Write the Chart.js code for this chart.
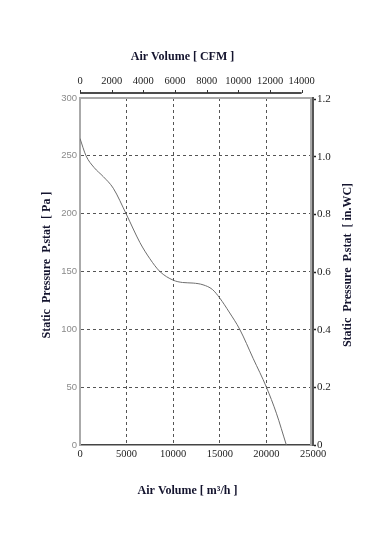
<!DOCTYPE html>
<html>
<head>
<meta charset="utf-8">
<script src="https://cdn.jsdelivr.net/npm/chart.js@4/dist/chart.umd.min.js"></script>
<style>
html,body{margin:0;padding:0;background:#fff;}
#wrap{width:391px;height:534px;position:relative;}
</style>
</head>
<body>
<div id="wrap"><canvas id="c"></canvas></div>
<script>
// Data
const flowM3h = [0, 650, 1500, 2500, 3570, 5000, 6430, 7500, 8570, 10000, 11000, 12140, 13200, 14200, 15000, 16000, 17140, 18570, 20000, 21070, 22140];
const pressurePa = [265, 250, 240, 232, 222, 199, 175, 161, 150, 142.5, 140.5, 140, 138.5, 134.5, 127, 115, 100, 75, 50, 27.5, 0];

const xTicksM3h = [0, 5000, 10000, 15000, 20000, 25000];
const xTicksCFM = [0, 2000, 4000, 6000, 8000, 10000, 12000, 14000];
const yTicksPa = [0, 50, 100, 150, 200, 250, 300];
const yTicksInWC = [0, 0.2, 0.4, 0.6, 0.8, 1.0, 1.2];

const titleBottom = 'Air Volume [ m³/h ]';
const titleTop = 'Air Volume [ CFM ]';
const titleLeft = 'Static  Pressure  P.stat  [ Pa ]';
const titleRight = 'Static  Pressure  P.stat  [ in.WC]';

const M3H_PER_CFM = 1.699;
const PA_PER_INWC = 249.09;

const serifTick = {family: "'Liberation Serif', 'Times New Roman', serif", size: 10.5};
const leftTick = {family: "'Liberation Sans Narrow', 'Liberation Sans', Arial, sans-serif", size: 9.5};
const rightTick = {family: "'Liberation Serif', 'Times New Roman', serif", size: 11};
const gridColor = '#555';

function hideEdges(max) {
  return ctx => (ctx.tick && (ctx.tick.value === 0 || ctx.tick.value === max)) ? 'rgba(0,0,0,0)' : gridColor;
}

const extras = {
  id: 'extras',
  afterDraw(chart) {
    const {ctx, chartArea: a, scales} = chart;
    const s = scales.x2;
    ctx.save();
    // top CFM axis line
    const yl = a.top - 5;
    ctx.strokeStyle = '#111';
    ctx.lineWidth = 1.5;
    ctx.beginPath();
    ctx.moveTo(s.getPixelForValue(xTicksCFM[0]), yl);
    ctx.lineTo(s.getPixelForValue(xTicksCFM[xTicksCFM.length - 1]), yl);
    ctx.stroke();
    ctx.lineWidth = 1;
    ctx.strokeStyle = '#333';
    xTicksCFM.forEach(v => {
      const px = Math.round(s.getPixelForValue(v)) + 0.5;
      ctx.beginPath();
      ctx.moveTo(px, yl - 3);
      ctx.lineTo(px, yl);
      ctx.stroke();
    });
    // grey inner right frame
    ctx.strokeStyle = '#aaa';
    ctx.lineWidth = 2;
    ctx.beginPath();
    ctx.moveTo(a.right - 2, a.top);
    ctx.lineTo(a.right - 2, a.bottom);
    ctx.stroke();
    // axis titles
    ctx.fillStyle = '#14142e';
    ctx.font = "bold 12px 'Liberation Serif', 'Times New Roman', serif";
    ctx.textAlign = 'center';
    ctx.textBaseline = 'middle';
    const cx = (a.left + a.right) / 2;
    ctx.fillText(titleTop, cx - 14, 57);
    ctx.fillText(titleBottom, cx - 9, 491);
    ctx.save();
    ctx.translate(47, 265);
    ctx.rotate(-Math.PI / 2);
    ctx.fillText(titleLeft, 0, 0);
    ctx.restore();
    ctx.save();
    ctx.translate(348, 265);
    ctx.rotate(-Math.PI / 2);
    ctx.fillText(titleRight, 0, 0);
    ctx.restore();
    ctx.restore();
  }
};

new Chart(document.getElementById('c'), {
  type: 'line',
  data: {
    datasets: [{
      data: flowM3h.map((x, i) => ({x: x, y: pressurePa[i]})),
      borderColor: '#6e6e6e',
      borderWidth: 1,
      pointRadius: 0,
      cubicInterpolationMode: 'monotone',
      fill: false,
      xAxisID: 'x',
      yAxisID: 'y'
    }]
  },
  options: {
    responsive: true,
    maintainAspectRatio: false,
    animation: false,
    layout: {padding: 0},
    plugins: {legend: {display: false}, tooltip: {enabled: false}, title: {display: false}},
    scales: {
      x: {
        type: 'linear', position: 'bottom', min: 0, max: 25000,
        afterBuildTicks: sc => { sc.ticks = xTicksM3h.map(v => ({value: v})); },
        afterFit: sc => { sc.height = 89; },
        ticks: {font: serifTick, color: '#222', padding: 3, maxRotation: 0, autoSkip: false, callback: v => String(v)},
        grid: {color: hideEdges(25000), lineWidth: 1, drawTicks: false},
        border: {display: true, color: '#444', width: 1.5, dash: [3, 3]}
      },
      x2: {
        type: 'linear', position: 'top', min: 0, max: 25000 / M3H_PER_CFM,
        afterBuildTicks: sc => { sc.ticks = xTicksCFM.map(v => ({value: v})); },
        afterFit: sc => { sc.height = 98; },
        ticks: {font: serifTick, color: '#222', padding: 10, maxRotation: 0, autoSkip: false, callback: v => String(v)},
        grid: {display: false, drawOnChartArea: false, drawTicks: false},
        border: {display: true, color: '#aaa', width: 2}
      },
      y: {
        type: 'linear', position: 'left', min: 0, max: 300,
        afterBuildTicks: sc => { sc.ticks = yTicksPa.map(v => ({value: v})); },
        afterFit: sc => { sc.width = 80; },
        ticks: {font: leftTick, color: '#8a8a8a', padding: 3, autoSkip: false, callback: v => String(v)},
        grid: {color: hideEdges(300), lineWidth: 1, drawTicks: false},
        border: {display: true, color: '#aaa', width: 2, dash: [3, 3]}
      },
      y2: {
        type: 'linear', position: 'right', min: 0, max: 300 / PA_PER_INWC,
        afterBuildTicks: sc => { sc.ticks = yTicksInWC.map(v => ({value: v})); },
        afterFit: sc => { sc.width = 78; },
        ticks: {font: rightTick, color: '#222', padding: 1, autoSkip: false, callback: v => v === 0 ? '0' : v.toFixed(1)},
        grid: {drawOnChartArea: false, drawTicks: true, tickLength: 3, tickColor: '#222', tickWidth: 1.5},
        border: {display: true, color: '#555', width: 2}
      }
    }
  },
  plugins: [extras]
});
</script>
</body>
</html>
